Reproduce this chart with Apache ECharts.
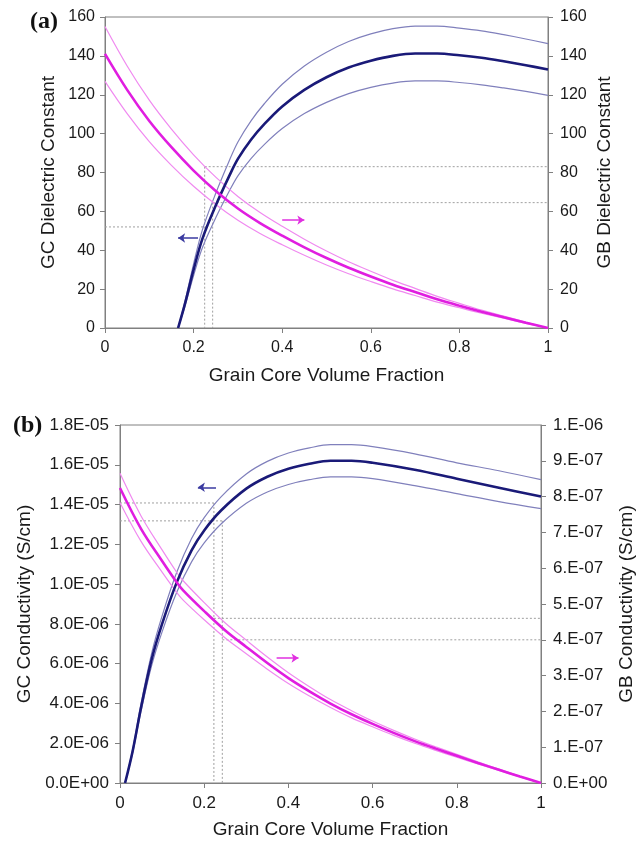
<!DOCTYPE html>
<html><head><meta charset="utf-8">
<script src="https://cdn.jsdelivr.net/npm/echarts@6/dist/echarts.min.js"></script>
<style>html,body{margin:0;padding:0;background:#fff}#c{width:644px;height:842px}</style>
</head><body><div id="c"></div>
<script>
// ===== Panel (a): dielectric constant =====
const fracTicks = ['0', '0.2', '0.4', '0.6', '0.8', '1'];
const dielTicks = ['0', '20', '40', '60', '80', '100', '120', '140', '160'];

// grain core (GC) dielectric constant, left axis
const gcX     = [0.165, 0.18, 0.2, 0.22, 0.25, 0.28, 0.3, 0.33, 0.36, 0.4, 0.45, 0.5, 0.55, 0.6, 0.65, 0.7, 0.75, 0.8, 0.85, 0.9, 0.95, 1.0];
const gcMain  = [0, 12, 30, 46, 63, 78, 87, 97, 105, 114, 122.5, 129, 134, 137.5, 140, 141.2, 141.2, 140.3, 139, 137.2, 135.2, 133];
const gcUpper = [0, 13.2, 33, 50.6, 69.3, 85.8, 95.7, 106.7, 115.5, 125.4, 134.8, 141.9, 147.4, 151.3, 154, 155.3, 155.3, 154.3, 152.9, 150.9, 148.7, 146.3];
const gcLower = [0, 10.8, 27, 41.4, 56.7, 70.2, 78.3, 87.3, 94.5, 102.6, 110.3, 116.1, 120.6, 123.8, 126, 127.1, 127.1, 126.3, 125.1, 123.5, 121.7, 119.7];

// grain boundary (GB) dielectric constant, right axis
const gbX     = [0, 0.05, 0.1, 0.15, 0.2, 0.25, 0.3, 0.35, 0.4, 0.45, 0.5, 0.55, 0.6, 0.65, 0.7, 0.75, 0.8, 0.85, 0.9, 0.95, 1.0];
const gbMain  = [141, 122.5, 106.5, 93, 81, 70.5, 61.5, 54, 47.5, 41.5, 36, 31, 26.5, 22.3, 18.5, 14.8, 11.5, 8.4, 5.5, 2.7, 0];
const gbUpper = [155.1, 134.8, 117.2, 102.3, 89.1, 77.6, 67.7, 59.4, 52.3, 45.7, 39.6, 34.1, 29.2, 24.5, 20.4, 16.3, 12.7, 9.2, 6.1, 3, 0];
const gbLower = [126.9, 110.3, 95.9, 83.7, 72.9, 63.5, 55.4, 48.6, 42.8, 37.4, 32.4, 27.9, 23.9, 20.1, 16.7, 13.3, 10.4, 7.6, 5, 2.4, 0];

// guide lines (x, value) pairs
const aGuidesLeft  = [[[0, 52], [0.235, 52]]];
const aGuidesRight = [[[0.225, 83], [1, 83]], [[0.243, 64.5], [1, 64.5]], [[0.225, 83], [0.225, 0]], [[0.243, 64.5], [0.243, 0]]];
const aArrowLeft  = [[0.21, 46.3], [0.165, 46.3]];
const aArrowRight = [[0.40, 55.5], [0.45, 55.5]];

// ===== Panel (b): conductivity =====
const condLeftTicks  = ['0.0E+00', '2.0E-06', '4.0E-06', '6.0E-06', '8.0E-06', '1.0E-05', '1.2E-05', '1.4E-05', '1.6E-05', '1.8E-05']; // unit 1E-06
const condRightTicks = ['0.E+00', '1.E-07', '2.E-07', '3.E-07', '4.E-07', '5.E-07', '6.E-07', '7.E-07', '8.E-07', '9.E-07', '1.E-06']; // unit 1E-07

// GC conductivity in units of 1E-06 S/cm, left axis
const cX     = [0.012, 0.03, 0.05, 0.075, 0.1, 0.135, 0.17, 0.2, 0.24, 0.3, 0.35, 0.4, 0.45, 0.5, 0.55, 0.6, 0.7, 0.8, 0.9, 1.0];
const cMain  = [0, 1.6, 3.8, 6.2, 8.0, 10.1, 11.7, 12.7, 13.7, 14.8, 15.4, 15.8, 16.05, 16.2, 16.2, 16.1, 15.75, 15.3, 14.85, 14.4];
const cUpper = [0, 1.68, 3.99, 6.51, 8.4, 10.61, 12.29, 13.34, 14.39, 15.54, 16.17, 16.59, 16.85, 17.01, 17.01, 16.91, 16.55, 16.1, 15.7, 15.25];
const cLower = [0, 1.52, 3.61, 5.89, 7.6, 9.6, 11.12, 12.07, 13.02, 14.06, 14.63, 15.01, 15.25, 15.39, 15.39, 15.3, 14.95, 14.55, 14.15, 13.8];

// GB conductivity in units of 1E-07 S/cm, right axis
const cbX     = [0, 0.05, 0.1, 0.135, 0.15, 0.2, 0.25, 0.3, 0.35, 0.4, 0.45, 0.5, 0.55, 0.6, 0.65, 0.7, 0.75, 0.8, 0.85, 0.9, 0.95, 1.0];
const cbMain  = [8.24, 7.1, 6.2, 5.6, 5.38, 4.8, 4.26, 3.8, 3.35, 2.93, 2.56, 2.22, 1.92, 1.65, 1.4, 1.17, 0.96, 0.76, 0.56, 0.37, 0.18, 0];
const cbUpper = [8.65, 7.46, 6.51, 5.88, 5.65, 5.04, 4.47, 3.99, 3.52, 3.08, 2.69, 2.33, 2.02, 1.73, 1.47, 1.23, 1.01, 0.8, 0.59, 0.39, 0.19, 0];
const cbLower = [7.83, 6.75, 5.89, 5.32, 5.11, 4.56, 4.05, 3.61, 3.18, 2.78, 2.43, 2.11, 1.82, 1.57, 1.33, 1.11, 0.91, 0.72, 0.53, 0.35, 0.17, 0];

const bGuidesLeft  = [[[0, 14.08], [0.223, 14.08]], [[0, 13.18], [0.243, 13.18]], [[0.223, 14.08], [0.223, 0]], [[0.243, 13.18], [0.243, 0]]];
const bGuidesRight = [[[0.223, 4.6], [1, 4.6]], [[0.243, 4.0], [1, 4.0]]];
const bArrowLeft  = [[0.228, 14.87], [0.185, 14.87]];
const bArrowRight = [[0.372, 3.49], [0.424, 3.49]];

// ===== styling =====
const FONT = 'Liberation Sans, Arial, sans-serif';
const AXIS = '#808080';
const TXT = '#1a1a1a';
const NAVY = '#1a1a78', NAVY_T = '#8080bc';
const MAG = '#e01ee0', MAG_T = '#f08af0';
const GUIDE = '#a0a0a0';

const pts = (xs, ys) => xs.map((x, i) => [x, ys[i]]);

function xAxisCfg(grid, gap, fs) {
  return {
    type: 'value', gridIndex: grid, min: 0, max: 1, interval: 0.2,
    axisLine: { show: true, lineStyle: { color: AXIS, width: 1 } },
    axisTick: { show: true, length: 5, lineStyle: { color: AXIS } },
    splitLine: { show: false },
    axisLabel: { fontSize: fs, color: TXT, fontFamily: FONT, margin: 12,
      formatter: v => fracTicks[Math.round(v / 0.2)] },
    name: 'Grain Core Volume Fraction', nameLocation: 'middle', nameGap: gap,
    nameMoveOverlap: false,
    nameTextStyle: { fontSize: 19, color: TXT, fontFamily: FONT }
  };
}
function yAxisCfg(grid, pos, max, interval, ticks, name, gap, margin, fs) {
  return {
    type: 'value', gridIndex: grid, position: pos, min: 0, max: max, interval: interval,
    axisLine: { show: true, onZero: false, lineStyle: { color: AXIS, width: 1 } },
    axisTick: { show: true, length: 5, lineStyle: { color: AXIS } },
    splitLine: { show: false },
    axisLabel: { fontSize: fs, color: TXT, fontFamily: FONT, margin: margin,
      formatter: v => ticks[Math.round(v / interval)] },
    name: name, nameLocation: 'middle', nameRotate: 90, nameGap: gap,
    nameMoveOverlap: false,
    nameTextStyle: { fontSize: 19, color: TXT, fontFamily: FONT }
  };
}
function curve(xi, yi, data, color, width, z, extra) {
  return Object.assign({
    type: 'line', xAxisIndex: xi, yAxisIndex: yi, data: data,
    symbol: 'none', showSymbol: false, smooth: 0.35, silent: true,
    lineStyle: { color: color, width: width }, z: z
  }, extra || {});
}
function arrow(seg, color) {
  return {
    silent: true, symbol: ['none', 'arrow'], symbolSize: 7, animation: false,
    label: { show: false },
    lineStyle: { color: color, width: 1.5, type: 'solid' },
    data: [[{ coord: seg[0] }, { coord: seg[1] }]]
  };
}
function guides(xi, yi, segs) {
  return segs.map(s => ({
    type: 'line', xAxisIndex: xi, yAxisIndex: yi, data: s,
    symbol: 'none', showSymbol: false, silent: true, z: 1,
    lineStyle: { color: GUIDE, width: 1, type: [2, 2] }
  }));
}

const chart = echarts.init(document.getElementById('c'), null, { renderer: 'canvas' });
chart.setOption({
  animation: false,
  backgroundColor: '#ffffff',
  grid: [
    { left: 105, right: 96, top: 17, height: 311, show: true, borderColor: AXIS, borderWidth: 1, containLabel: false },
    { left: 120, right: 102, top: 425, height: 358, show: true, borderColor: AXIS, borderWidth: 1, containLabel: false }
  ],
  xAxis: [xAxisCfg(0, 38, 16), xAxisCfg(1, 37, 17)],
  yAxis: [
    yAxisCfg(0, 'left', 160, 20, dielTicks, 'GC Dielectric Constant', 47, 10, 16),
    yAxisCfg(0, 'right', 160, 20, dielTicks, 'GB Dielectric Constant', 47, 12, 16),
    yAxisCfg(1, 'left', 18, 2, condLeftTicks, 'GC Conductivity (S/cm)', 86, 11, 17),
    yAxisCfg(1, 'right', 10, 1, condRightTicks, 'GB Conductivity (S/cm)', 76, 12, 17)
  ],
  graphic: [
    { type: 'text', left: 30, top: 10, style: { text: '(a)', font: 'bold 24px "Liberation Serif", "Times New Roman", serif', fill: '#111' } },
    { type: 'text', left: 13, top: 414, style: { text: '(b)', font: 'bold 24px "Liberation Serif", "Times New Roman", serif', fill: '#111' } }
  ],
  series: [].concat(
    guides(0, 0, aGuidesLeft),
    guides(0, 1, aGuidesRight),
    guides(1, 2, bGuidesLeft),
    guides(1, 3, bGuidesRight),
    [
      curve(0, 0, pts(gcX, gcUpper), NAVY_T, 1.2, 3),
      curve(0, 0, pts(gcX, gcLower), NAVY_T, 1.2, 3),
      curve(0, 0, pts(gcX, gcMain), NAVY, 2.6, 4, { markLine: arrow(aArrowLeft, '#3a3aa0') }),
      curve(0, 1, pts(gbX, gbUpper), MAG_T, 1.2, 3),
      curve(0, 1, pts(gbX, gbLower), MAG_T, 1.2, 3),
      curve(0, 1, pts(gbX, gbMain), MAG, 2.6, 4, { markLine: arrow(aArrowRight, '#e030e0') }),
      curve(1, 2, pts(cX, cUpper), NAVY_T, 1.2, 3),
      curve(1, 2, pts(cX, cLower), NAVY_T, 1.2, 3),
      curve(1, 2, pts(cX, cMain), NAVY, 2.6, 4, { markLine: arrow(bArrowLeft, '#3a3aa0') }),
      curve(1, 3, pts(cbX, cbUpper), MAG_T, 1.2, 3),
      curve(1, 3, pts(cbX, cbLower), MAG_T, 1.2, 3),
      curve(1, 3, pts(cbX, cbMain), MAG, 2.6, 4, { markLine: arrow(bArrowRight, '#e030e0') })
    ]
  )
});
</script>
</body></html>
